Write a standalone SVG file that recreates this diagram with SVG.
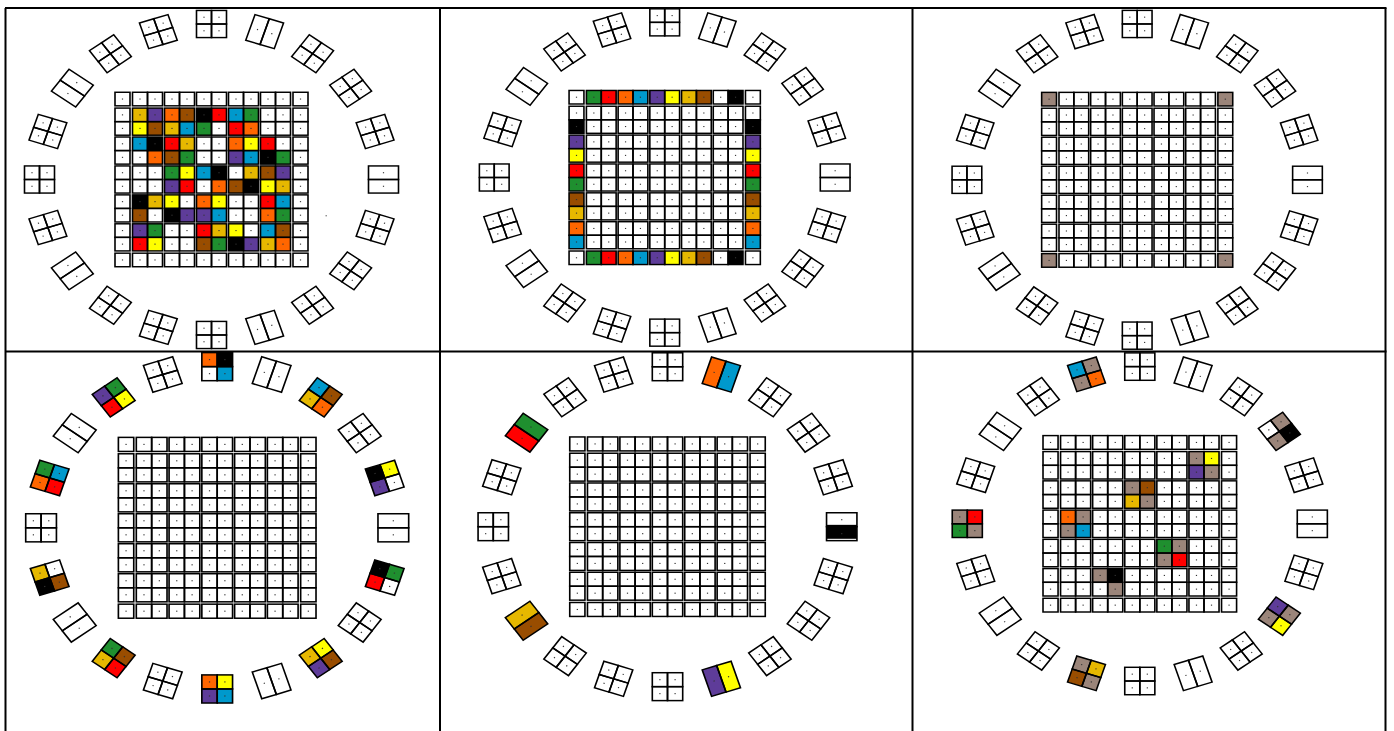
<svg xmlns="http://www.w3.org/2000/svg" xmlns:xlink="http://www.w3.org/1999/xlink" width="1394" height="731" viewBox="0 0 1394 731">
<style>
.s{fill:none;stroke:#000;stroke-width:1.6}
.d{fill:#333}
.fr{fill:none;stroke:#000;stroke-width:2}
.co{fill:#FF6600}.cr{fill:#FF0000}.cn{fill:#1F8F2F}.cb{fill:#0099CC}.cp{fill:#5E3C99}
.cy{fill:#FFFF00}.cg{fill:#E6B800}.cw{fill:#994D00}.ck{fill:#000}.ct{fill:#9B857A}
</style>
<defs>
<g id="c"><rect class="s" width="15" height="15"/><rect class="d" x="6.9" y="6.9" width="1.2" height="1.2"/></g>
<g id="h"><use href="#c"/><use href="#c" x="15"/></g>
<g id="v"><use href="#c"/><use href="#c" y="15"/></g>
<g id="b"><use href="#h"/><use href="#h" y="15"/></g>
<rect id="f" width="15" height="15"/>
<rect id="f2" width="15" height="30"/>
<g id="t4"><use href="#b" x="-15" y="-15"/></g>
<g id="t2"><rect class="s" x="-15" y="-15" width="15" height="30"/><rect class="s" x="0" y="-15" width="15" height="30"/><rect class="d" x="-8.1" y="-0.6" width="1.2" height="1.2"/><rect class="d" x="6.9" y="-0.6" width="1.2" height="1.2"/></g>
<g id="grid">
<use href="#c" x="-96.5" y="-96.5"/><use href="#c" x="81.5" y="-96.5"/><use href="#c" x="-96.5" y="81.5"/><use href="#c" x="81.5" y="81.5"/>
<use href="#h" x="-79" y="-96.5"/><use href="#h" x="-47" y="-96.5"/><use href="#h" x="-15" y="-96.5"/><use href="#h" x="17" y="-96.5"/><use href="#h" x="49" y="-96.5"/>
<use href="#h" x="-79" y="81.5"/><use href="#h" x="-47" y="81.5"/><use href="#h" x="-15" y="81.5"/><use href="#h" x="17" y="81.5"/><use href="#h" x="49" y="81.5"/>
<use href="#v" x="-96.5" y="-79"/><use href="#v" x="-96.5" y="-47"/><use href="#v" x="-96.5" y="-15"/><use href="#v" x="-96.5" y="17"/><use href="#v" x="-96.5" y="49"/>
<use href="#v" x="81.5" y="-79"/><use href="#v" x="81.5" y="-47"/><use href="#v" x="81.5" y="-15"/><use href="#v" x="81.5" y="17"/><use href="#v" x="81.5" y="49"/>
<use href="#b" x="-79" y="-79"/><use href="#b" x="-47" y="-79"/><use href="#b" x="-15" y="-79"/><use href="#b" x="17" y="-79"/><use href="#b" x="49" y="-79"/>
<use href="#b" x="-79" y="-47"/><use href="#b" x="-47" y="-47"/><use href="#b" x="-15" y="-47"/><use href="#b" x="17" y="-47"/><use href="#b" x="49" y="-47"/>
<use href="#b" x="-79" y="-15"/><use href="#b" x="-47" y="-15"/><use href="#b" x="-15" y="-15"/><use href="#b" x="17" y="-15"/><use href="#b" x="49" y="-15"/>
<use href="#b" x="-79" y="17"/><use href="#b" x="-47" y="17"/><use href="#b" x="-15" y="17"/><use href="#b" x="17" y="17"/><use href="#b" x="49" y="17"/>
<use href="#b" x="-79" y="49"/><use href="#b" x="-47" y="49"/><use href="#b" x="-15" y="49"/><use href="#b" x="17" y="49"/><use href="#b" x="49" y="49"/>
</g>
<g id="ring">
<use href="#t4" transform="translate(0,-172)"/>
<use href="#t2" transform="translate(53.15,-163.58) rotate(18)"/>
<use href="#t4" transform="translate(101.1,-139.15) rotate(36)"/>
<use href="#t4" transform="translate(139.15,-101.1) rotate(-36)"/>
<use href="#t4" transform="translate(163.58,-53.15) rotate(-18)"/>
<use href="#t2" transform="translate(172,0) rotate(90)"/>
<use href="#t4" transform="translate(163.58,53.15) rotate(18)"/>
<use href="#t4" transform="translate(139.15,101.1) rotate(36)"/>
<use href="#t4" transform="translate(101.1,139.15) rotate(-36)"/>
<use href="#t2" transform="translate(53.15,163.58) rotate(-18)"/>
<use href="#t4" transform="translate(0,172)"/>
<use href="#t4" transform="translate(-53.15,163.58) rotate(18)"/>
<use href="#t4" transform="translate(-101.1,139.15) rotate(36)"/>
<use href="#t2" transform="translate(-139.15,101.1) rotate(54)"/>
<use href="#t4" transform="translate(-163.58,53.15) rotate(-18)"/>
<use href="#t4" transform="translate(-172,0)"/>
<use href="#t4" transform="translate(-163.58,-53.15) rotate(18)"/>
<use href="#t2" transform="translate(-139.15,-101.1) rotate(-54)"/>
<use href="#t4" transform="translate(-101.1,-139.15) rotate(-36)"/>
<use href="#t4" transform="translate(-53.15,-163.58) rotate(-18)"/>
</g>
</defs>
<rect width="1394" height="731" fill="#fff"/>

<g id="p1" transform="translate(211.5,179.5) scale(1,0.904)">
<g id="p1-fill">
<use href="#f" class="cg" x="-79" y="-79"/><use href="#f" class="cp" x="-64" y="-79"/><use href="#f" class="cy" x="-79" y="-64"/><use href="#f" class="cw" x="-64" y="-64"/>
<use href="#f" class="co" x="-47" y="-79"/><use href="#f" class="cw" x="-32" y="-79"/><use href="#f" class="cg" x="-47" y="-64"/><use href="#f" class="cb" x="-32" y="-64"/>
<use href="#f" class="ck" x="-15" y="-79"/><use href="#f" class="cr" x="0" y="-79"/><use href="#f" class="cn" x="-15" y="-64"/>
<use href="#f" class="cb" x="17" y="-79"/><use href="#f" class="cn" x="32" y="-79"/><use href="#f" class="cr" x="17" y="-64"/><use href="#f" class="co" x="32" y="-64"/>
<use href="#f" class="cb" x="-79" y="-47"/><use href="#f" class="ck" x="-64" y="-47"/><use href="#f" class="co" x="-64" y="-32"/>
<use href="#f" class="cr" x="-47" y="-47"/><use href="#f" class="cg" x="-32" y="-47"/><use href="#f" class="cw" x="-47" y="-32"/><use href="#f" class="cn" x="-32" y="-32"/>
<use href="#f" class="co" x="17" y="-47"/><use href="#f" class="cy" x="32" y="-47"/><use href="#f" class="cp" x="17" y="-32"/><use href="#f" class="cb" x="32" y="-32"/>
<use href="#f" class="cr" x="49" y="-47"/><use href="#f" class="ck" x="49" y="-32"/><use href="#f" class="cn" x="64" y="-32"/>
<use href="#f" class="cn" x="-47" y="-15"/><use href="#f" class="cy" x="-32" y="-15"/><use href="#f" class="cp" x="-47" y="0"/><use href="#f" class="cr" x="-32" y="0"/>
<use href="#f" class="cb" x="-15" y="-15"/><use href="#f" class="ck" x="0" y="-15"/><use href="#f" class="co" x="0" y="0"/>
<use href="#f" class="cg" x="32" y="-15"/><use href="#f" class="cw" x="17" y="0"/><use href="#f" class="ck" x="32" y="0"/>
<use href="#f" class="cw" x="49" y="-15"/><use href="#f" class="cp" x="64" y="-15"/><use href="#f" class="cy" x="49" y="0"/><use href="#f" class="cg" x="64" y="0"/>
<use href="#f" class="ck" x="-79" y="17"/><use href="#f" class="cg" x="-64" y="17"/><use href="#f" class="cw" x="-79" y="32"/>
<use href="#f" class="cy" x="-47" y="17"/><use href="#f" class="ck" x="-47" y="32"/><use href="#f" class="cp" x="-32" y="32"/>
<use href="#f" class="co" x="-15" y="17"/><use href="#f" class="cy" x="0" y="17"/><use href="#f" class="cp" x="-15" y="32"/><use href="#f" class="cb" x="0" y="32"/>
<use href="#f" class="cr" x="49" y="17"/><use href="#f" class="cb" x="64" y="17"/><use href="#f" class="co" x="49" y="32"/><use href="#f" class="cn" x="64" y="32"/>
<use href="#f" class="cp" x="-79" y="49"/><use href="#f" class="cn" x="-64" y="49"/><use href="#f" class="cr" x="-79" y="64"/><use href="#f" class="cy" x="-64" y="64"/>
<use href="#f" class="cr" x="-15" y="49"/><use href="#f" class="cg" x="0" y="49"/><use href="#f" class="cw" x="-15" y="64"/><use href="#f" class="cn" x="0" y="64"/>
<use href="#f" class="cy" x="17" y="49"/><use href="#f" class="ck" x="17" y="64"/><use href="#f" class="cp" x="32" y="64"/>
<use href="#f" class="cb" x="49" y="49"/><use href="#f" class="cw" x="64" y="49"/><use href="#f" class="cg" x="49" y="64"/><use href="#f" class="co" x="64" y="64"/>
</g>
<use href="#grid"/><use href="#ring"/>
</g>
<rect x="325.5" y="215" width="1.4" height="1.4" fill="#888"/>

<g id="p2" transform="translate(664.7,177.5) scale(0.991,0.902)">
<g id="p2-fill">
<use href="#f" class="cn" x="-79" y="-96.5"/><use href="#f" class="cr" x="-64" y="-96.5"/><use href="#f" class="co" x="-47" y="-96.5"/><use href="#f" class="cb" x="-32" y="-96.5"/><use href="#f" class="cp" x="-15" y="-96.5"/><use href="#f" class="cy" x="0" y="-96.5"/><use href="#f" class="cg" x="17" y="-96.5"/><use href="#f" class="cw" x="32" y="-96.5"/><use href="#f" class="ck" x="64" y="-96.5"/>
<use href="#f" class="cn" x="-79" y="81.5"/><use href="#f" class="cr" x="-64" y="81.5"/><use href="#f" class="co" x="-47" y="81.5"/><use href="#f" class="cb" x="-32" y="81.5"/><use href="#f" class="cp" x="-15" y="81.5"/><use href="#f" class="cy" x="0" y="81.5"/><use href="#f" class="cg" x="17" y="81.5"/><use href="#f" class="cw" x="32" y="81.5"/><use href="#f" class="ck" x="64" y="81.5"/>
<use href="#f" class="ck" x="-96.5" y="-64"/><use href="#f" class="cp" x="-96.5" y="-47"/><use href="#f" class="cy" x="-96.5" y="-32"/><use href="#f" class="cr" x="-96.5" y="-15"/><use href="#f" class="cn" x="-96.5" y="0"/><use href="#f" class="cw" x="-96.5" y="17"/><use href="#f" class="cg" x="-96.5" y="32"/><use href="#f" class="co" x="-96.5" y="49"/><use href="#f" class="cb" x="-96.5" y="64"/>
<use href="#f" class="ck" x="81.5" y="-64"/><use href="#f" class="cp" x="81.5" y="-47"/><use href="#f" class="cy" x="81.5" y="-32"/><use href="#f" class="cr" x="81.5" y="-15"/><use href="#f" class="cn" x="81.5" y="0"/><use href="#f" class="cw" x="81.5" y="17"/><use href="#f" class="cg" x="81.5" y="32"/><use href="#f" class="co" x="81.5" y="49"/><use href="#f" class="cb" x="81.5" y="64"/>
</g>
<use href="#grid"/><use href="#ring"/>
</g>

<g id="p3" transform="translate(1137.2,179.8) scale(0.99,0.906)">
<g id="p3-fill">
<use href="#f" class="ct" x="-96.5" y="-96.5"/><use href="#f" class="ct" x="81.5" y="-96.5"/><use href="#f" class="ct" x="-96.5" y="81.5"/><use href="#f" class="ct" x="81.5" y="81.5"/>
</g>
<use href="#grid"/><use href="#ring"/>
</g>

<g id="p4" transform="translate(217.2,527.8) scale(1.024,0.937)">
<g id="p4-fill">
<g transform="translate(0,-172)"><use href="#f" class="co" x="-15" y="-15"/><use href="#f" class="ck" x="0" y="-15"/><use href="#f" class="cb" x="0" y="0"/></g>
<g transform="translate(101.1,-139.15) rotate(36)"><use href="#f" class="cb" x="-15" y="-15"/><use href="#f" class="cw" x="0" y="-15"/><use href="#f" class="cg" x="-15" y="0"/><use href="#f" class="co" x="0" y="0"/></g>
<g transform="translate(163.58,-53.15) rotate(-18)"><use href="#f" class="ck" x="-15" y="-15"/><use href="#f" class="cy" x="0" y="-15"/><use href="#f" class="cp" x="-15" y="0"/></g>
<g transform="translate(163.58,53.15) rotate(18)"><use href="#f" class="ck" x="-15" y="-15"/><use href="#f" class="cn" x="0" y="-15"/><use href="#f" class="cr" x="-15" y="0"/></g>
<g transform="translate(101.1,139.15) rotate(-36)"><use href="#f" class="cg" x="-15" y="-15"/><use href="#f" class="cy" x="0" y="-15"/><use href="#f" class="cp" x="-15" y="0"/><use href="#f" class="cw" x="0" y="0"/></g>
<g transform="translate(0,172)"><use href="#f" class="co" x="-15" y="-15"/><use href="#f" class="cy" x="0" y="-15"/><use href="#f" class="cp" x="-15" y="0"/><use href="#f" class="cb" x="0" y="0"/></g>
<g transform="translate(-101.1,139.15) rotate(36)"><use href="#f" class="cn" x="-15" y="-15"/><use href="#f" class="cw" x="0" y="-15"/><use href="#f" class="cg" x="-15" y="0"/><use href="#f" class="cr" x="0" y="0"/></g>
<g transform="translate(-163.58,53.15) rotate(-18)"><use href="#f" class="cg" x="-15" y="-15"/><use href="#f" class="ck" x="-15" y="0"/><use href="#f" class="cw" x="0" y="0"/></g>
<g transform="translate(-163.58,-53.15) rotate(18)"><use href="#f" class="cn" x="-15" y="-15"/><use href="#f" class="cb" x="0" y="-15"/><use href="#f" class="co" x="-15" y="0"/><use href="#f" class="cr" x="0" y="0"/></g>
<g transform="translate(-101.1,-139.15) rotate(-36)"><use href="#f" class="cp" x="-15" y="-15"/><use href="#f" class="cn" x="0" y="-15"/><use href="#f" class="cr" x="-15" y="0"/><use href="#f" class="cy" x="0" y="0"/></g>
</g>
<use href="#grid"/><use href="#ring"/>
</g>

<g id="p5" transform="translate(667.5,526.7) scale(1.013,0.93)">
<g id="p5-fill">
<g transform="translate(53.15,-163.58) rotate(18)"><use href="#f2" class="co" x="-15" y="-15"/><use href="#f2" class="cb" x="0" y="-15"/></g>
<g transform="translate(172,0) rotate(90)"><use href="#f2" class="ck" x="-2" y="-15"/></g>
<g transform="translate(53.15,163.58) rotate(-18)"><use href="#f2" class="cp" x="-15" y="-15"/><use href="#f2" class="cy" x="0" y="-15"/></g>
<g transform="translate(-139.15,101.1) rotate(54)"><use href="#f2" class="cg" x="-15" y="-15"/><use href="#f2" class="cw" x="0" y="-15"/></g>
<g transform="translate(-139.15,-101.1) rotate(-54)"><use href="#f2" class="cr" x="-15" y="-15"/><use href="#f2" class="cn" x="0" y="-15"/></g>
</g>
<use href="#grid"/><use href="#ring"/>
</g>

<g id="p6" transform="translate(1139.8,523.8) scale(1.003,0.914)">
<g id="p6-fill">
<use href="#f" class="ct" x="49" y="-79"/><use href="#f" class="cy" x="64" y="-79"/><use href="#f" class="cp" x="49" y="-64"/><use href="#f" class="ct" x="64" y="-64"/>
<use href="#f" class="ct" x="-15" y="-47"/><use href="#f" class="cw" x="0" y="-47"/><use href="#f" class="cg" x="-15" y="-32"/><use href="#f" class="ct" x="0" y="-32"/>
<use href="#f" class="co" x="-79" y="-15"/><use href="#f" class="ct" x="-64" y="-15"/><use href="#f" class="ct" x="-79" y="0"/><use href="#f" class="cb" x="-64" y="0"/>
<use href="#f" class="cn" x="17" y="17"/><use href="#f" class="ct" x="32" y="17"/><use href="#f" class="ct" x="17" y="32"/><use href="#f" class="cr" x="32" y="32"/>
<use href="#f" class="ct" x="-47" y="49"/><use href="#f" class="ck" x="-32" y="49"/><use href="#f" class="ct" x="-32" y="64"/>
<g transform="translate(139.15,-101.1) rotate(-36)"><use href="#f" class="ct" x="0" y="-15"/><use href="#f" class="ct" x="-15" y="0"/><use href="#f" class="ck" x="0" y="0"/></g>
<g transform="translate(139.15,101.1) rotate(36)"><use href="#f" class="cp" x="-15" y="-15"/><use href="#f" class="ct" x="0" y="-15"/><use href="#f" class="ct" x="-15" y="0"/><use href="#f" class="cy" x="0" y="0"/></g>
<g transform="translate(-53.15,163.58) rotate(18)"><use href="#f" class="ct" x="-15" y="-15"/><use href="#f" class="cg" x="0" y="-15"/><use href="#f" class="cw" x="-15" y="0"/><use href="#f" class="ct" x="0" y="0"/></g>
<g transform="translate(-172,0)"><use href="#f" class="ct" x="-15" y="-15"/><use href="#f" class="cr" x="0" y="-15"/><use href="#f" class="cn" x="-15" y="0"/><use href="#f" class="ct" x="0" y="0"/></g>
<g transform="translate(-53.15,-163.58) rotate(-18)"><use href="#f" class="cb" x="-15" y="-15"/><use href="#f" class="ct" x="0" y="-15"/><use href="#f" class="ct" x="-15" y="0"/><use href="#f" class="co" x="0" y="0"/></g>
</g>
<use href="#grid"/><use href="#ring"/>
</g>

<g id="frame" class="fr">
<line x1="5" y1="8" x2="1386.5" y2="8"/>
<line x1="5" y1="351.5" x2="1386.5" y2="351.5"/>
<line x1="5.5" y1="8" x2="5.5" y2="731"/>
<line x1="440" y1="8" x2="440" y2="731"/>
<line x1="912.5" y1="8" x2="912.5" y2="731"/>
<line x1="1385.5" y1="8" x2="1385.5" y2="731"/>
</g>
</svg>
